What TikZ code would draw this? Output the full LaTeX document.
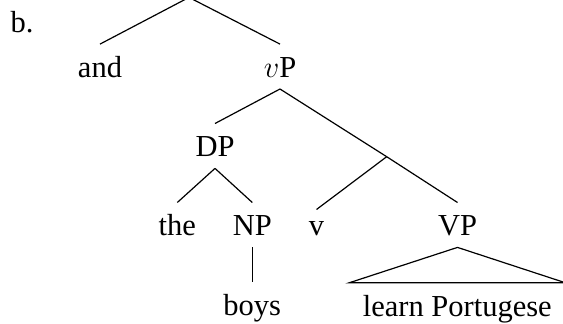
\RequirePackage{fix-cm}
\documentclass[tikz,border=0pt]{standalone}
\usepackage{fontspec}
\setmainfont{Liberation Serif}
\begin{document}
\begin{tikzpicture}[x=1pt,y=-1pt,
  every node/.style={font=\fontsize{30.5}{36}\selectfont},
  cat/.style={anchor=base, inner sep=0pt, text height=33pt, text depth=11.5pt},
  lowcat/.style={cat, text height=26pt},
  edge/.style={line width=1.2pt}]
\useasboundingbox (0,0) rectangle (563,324);
\clip (0,0) rectangle (563,324);

% example label
\node[anchor=base west, inner sep=0pt] (lbl) at (10.5,32.3) {b.};

% tree nodes
\coordinate (root) at (189,-2.6);
\node[cat] (and) at (100,77.3) {and};
\node[cat] (vP) at (280,77.3) {$v$P};
\node[cat] (DP) at (215,156.7) {DP};
\coordinate (vbar) at (386.7,156.7);
\node[cat] (the) at (177.3,235.7) {the};
\node[cat] (NP) at (252.3,235.7) {NP};
\node[lowcat] (v) at (316.5,235.7) {v};
\node[cat] (VP) at (457.5,235.7) {VP};
\node[cat] (boys) at (252.3,315) {boys};
\node[cat, inner xsep=13.5pt] (lp) at (457.3,316) {learn Portugese};

% branches
\draw[edge] (root) -- (and.north);
\draw[edge] (root) -- (vP.north);
\draw[edge] (vP.south) -- (DP.north);
\draw[edge] (vP.south) -- (vbar);
\draw[edge] (vbar) -- (v.north);
\draw[edge] (vbar) -- (VP.north);
\draw[edge] (DP.south) -- (the.north);
\draw[edge] (DP.south) -- (NP.north);
\draw[edge] (NP.south) -- (boys.north);
\draw[edge] (VP.south) -- (lp.north west) -- (lp.north east) -- cycle;
\end{tikzpicture}
\end{document}
